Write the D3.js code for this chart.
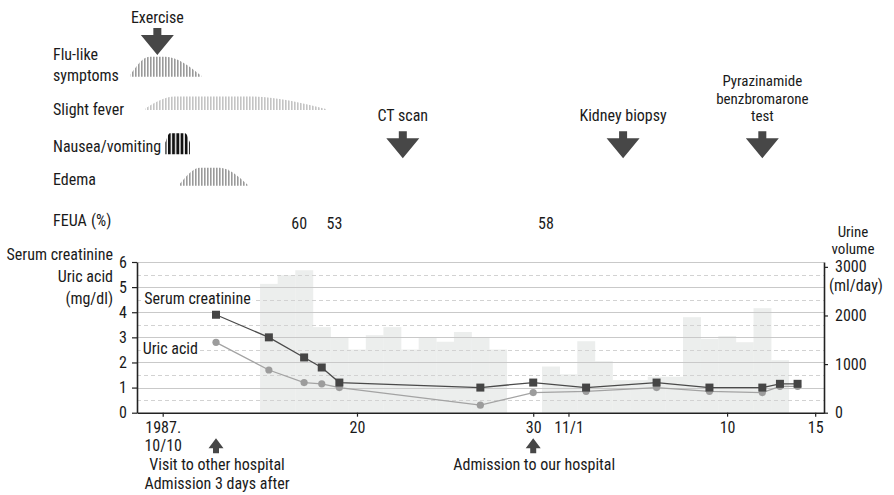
<!DOCTYPE html>
<html>
<head>
<meta charset="utf-8">
<script src="https://cdn.jsdelivr.net/npm/d3@7"></script>
<style>
  body { margin: 0; background: #fff; }
  text { font-family: "Liberation Sans Narrow", "Roboto Condensed", "DejaVu Sans Condensed", Roboto, sans-serif; font-size: 16px; fill: #1a1a1a; }
</style>
</head>
<body>
<svg id="chart"></svg>
<script>
// day numbers counted from 1987-10-01 = 1, so 11/1 = 32
const labDays = [12, 15, 17, 18, 19, 27, 30, 33, 37, 40, 43, 44, 45];
const creatinine = [3.9, 3.0, 2.2, 1.8, 1.2, 1.0, 1.2, 1.0, 1.2, 1.0, 1.0, 1.15, 1.15];
const uricAcid = [2.8, 1.7, 1.2, 1.15, 1.0, 0.3, 0.8, 0.85, 1.0, 0.85, 0.8, 1.05, 1.05];

const urineDays = [15, 16, 17, 18, 19, 20, 21, 22, 23, 24, 25, 26, 27, 28,
                   31, 32, 33, 34, 35, 36, 37, 38, 39, 40, 41, 42, 43, 44];
const urineVolume = [2650, 2830, 2930, 1760, 1540, 1300, 1595, 1760, 1300, 1540, 1460, 1660, 1540, 1300,
                     950, 790, 1470, 1060, 670, 670, 740, 740, 1965, 1520, 1575, 1450, 2150, 1080];

const feuaDays = [17, 19, 31];
const feuaValues = [60, 53, 58];

const symptomNames = ["Flu-like symptoms", "Slight fever", "Nausea/vomiting", "Edema"];
const symptomStart = [8.8, 9.35, 10.1, 10.65];
const symptomPeakFrom = [9.5, 10.45, 10.27, 11.4];
const symptomPeakTo = [10.1, 13.9, 10.84, 12.2];
const symptomEnd = [11.45, 18.3, 11.02, 13.8];

const topEvents = ["Exercise", "CT scan", "Kidney biopsy", "Pyrazinamide\nbenzbromarone\ntest"];
const topEventDays = [9.8, 22.6, 35.1, 43];
const bottomEvents = ["Visit to other hospital\nAdmission 3 days after", "Admission to our hospital"];
const bottomEventDays = [12, 30];

const xTicks = [10, 20, 30, 32, 41, 46];
const xTickLabels = ["1987.\n10/10", "20", "30", "11/1", "10", "15"];
const yTicks = [0, 1, 2, 3, 4, 5, 6];
const yRightTicks = [0, 1000, 2000, 3000];

const width = 894;
const height = 495;
const margin = { top: 262, left: 137 };
const plotW = 687;
const plotH = 150.7;

const svg = d3.select("#chart").attr("width", width).attr("height", height);

// the left end of the timeline is compressed, as in the original drawing
const x = d3.scaleLinear().domain([9.04, 10, 12, 46.5]).range([0, 25.7, 79, plotW]);
const y = d3.scaleLinear().domain([0, 6]).range([plotH, 0]);
const yR = d3.scaleLinear().domain([0, 3100]).range([plotH, 0]);
const X = (d) => margin.left + x(d);

const defs = svg.append("defs");
function stripes(id, step, bar, color) {
  defs.append("pattern")
    .attr("id", id)
    .attr("patternUnits", "userSpaceOnUse")
    .attr("width", step)
    .attr("height", 40)
    .append("rect")
    .attr("width", bar)
    .attr("height", 40)
    .attr("fill", color);
}
stripes("st-flu", 3, 1.6, "#9a9a9a");
stripes("st-fever", 3, 1.6, "#c4c4c4");
stripes("st-nausea", 4.2, 2.8, "#111");
stripes("st-edema", 3, 1.6, "#9a9a9a");
const symptomFill = d3.scaleOrdinal().domain(symptomNames)
  .range(["url(#st-flu)", "url(#st-fever)", "url(#st-nausea)", "url(#st-edema)"]);

// symptom rows
const rowBase = [76.7, 110, 154.3, 185.7];
const rowHeight = [20, 13.5, 21, 18];
const rowLabelY = [60, 115, 151.5, 185];

const symptoms = svg.append("g");
symptomNames.forEach((name, i) => {
  const area = d3.area()
    .x((d) => X(d[0]))
    .y0(rowBase[i])
    .y1((d) => rowBase[i] - rowHeight[i] * d[1])
    .curve(d3.curveMonotoneX);
  const startH = i === 2 ? 0.55 : 0.12;
  symptoms.append("path")
    .attr("d", area([
      [symptomStart[i], startH],
      [symptomPeakFrom[i], 1],
      [symptomPeakTo[i], 1],
      [symptomEnd[i], i === 2 ? 0.55 : 0.05]
    ]))
    .attr("fill", symptomFill(name));

  const t = symptoms.append("text").attr("x", 53).attr("y", rowLabelY[i]);
  if (i === 0) {
    t.append("tspan").attr("x", 53).text("Flu-like");
    t.append("tspan").attr("x", 53).attr("dy", 21).text("symptoms");
  } else {
    t.text(name);
  }
});

// FEUA row
svg.append("text").attr("x", 53).attr("y", 226).text("FEUA");
svg.append("text").attr("x", 91).attr("y", 226).text("(%)");
svg.append("g")
  .selectAll("text")
  .data(feuaValues)
  .join("text")
  .attr("x", (d, i) => X(feuaDays[i]) + 3)
  .attr("y", 229)
  .attr("text-anchor", "end")
  .text((d) => d);

// event arrows (down)
const arrowColor = "#474747";
const events = svg.append("g");
topEvents.forEach((name, i) => {
  const cx = X(topEventDays[i]);
  const tip = i === 0 ? 55 : 158.3;
  events.append("path")
    .attr("d", `M${cx - 4},${tip - 27}h8v7h12.5L${cx},${tip}L${cx - 16.5},${tip - 20}h12.5z`)
    .attr("fill", arrowColor);
  const lines = name.split("\n");
  const base = i === 0 ? 22.5 : 121;
  events.append("g")
    .selectAll("text")
    .data(lines)
    .join("text")
    .attr("x", cx)
    .attr("y", (d, k) => base - (lines.length - 1 - k) * 17.5)
    .attr("text-anchor", "middle")
    .style("font-size", lines.length > 1 ? "15px" : null)
    .text((d) => d);
});

const plot = svg.append("g").attr("transform", `translate(${margin.left},${margin.top})`);

// urine volume bars
plot.append("g")
  .selectAll("rect")
  .data(urineVolume)
  .join("rect")
  .attr("x", (d, i) => x(urineDays[i] - 0.5))
  .attr("width", (d, i) => x(urineDays[i] + 0.5) - x(urineDays[i] - 0.5) + 0.3)
  .attr("y", (d) => yR(d))
  .attr("height", (d) => plotH - yR(d))
  .attr("fill", "#eceeed");

// grid
plot.append("g")
  .selectAll("line")
  .data(d3.range(1, 13).map((k) => k / 2))
  .join("line")
  .attr("x1", 0)
  .attr("x2", plotW)
  .attr("y1", (d) => Math.round(y(d)) + 0.5)
  .attr("y2", (d) => Math.round(y(d)) + 0.5)
  .attr("stroke", (d) => (d % 1 === 0 ? "#c9c9c9" : "#d2d2d2"))
  .attr("stroke-width", 1)
  .attr("stroke-dasharray", (d) => (d % 1 === 0 ? null : "4,3"));

// series labels with white backing
[["Serum creatinine", 7.3, 303.5], ["Uric acid", 5.7, 353.5]].forEach(([label, dx, by]) => {
  const t = plot.append("text")
    .attr("x", dx)
    .attr("y", by - margin.top)
    .text(label);
  const bb = t.node().getBBox();
  plot.insert("rect", () => t.node())
    .attr("x", bb.x - 2)
    .attr("y", bb.y + 2)
    .attr("width", bb.width + 4)
    .attr("height", bb.height - 3)
    .attr("fill", "#fff");
});

// lines
const lineC = d3.line().x((d, i) => x(labDays[i])).y((d) => y(d));
plot.append("path")
  .attr("d", lineC(uricAcid))
  .attr("fill", "none")
  .attr("stroke", "#a3a3a3")
  .attr("stroke-width", 1.3);
plot.append("path")
  .attr("d", lineC(creatinine))
  .attr("fill", "none")
  .attr("stroke", "#4a4a4a")
  .attr("stroke-width", 1.3);

plot.append("g")
  .selectAll("circle")
  .data(uricAcid)
  .join("circle")
  .attr("cx", (d, i) => x(labDays[i]))
  .attr("cy", (d) => y(d))
  .attr("r", 3.6)
  .attr("fill", "#9c9c9c");

plot.append("g")
  .selectAll("rect")
  .data(creatinine)
  .join("rect")
  .attr("x", (d, i) => x(labDays[i]) - 4)
  .attr("y", (d) => y(d) - 4)
  .attr("width", 8)
  .attr("height", 8)
  .attr("fill", "#454545");

// axes
function styleAxis(sel) {
  sel.select(".domain").attr("stroke", "#222").attr("stroke-width", 1.6);
  sel.selectAll(".tick line").attr("stroke", "#222").attr("stroke-width", 1.2);
  sel.selectAll(".tick text").attr("fill", "#1a1a1a").style("font-size", "16px").attr("font-family", null);
}

plot.append("g")
  .call(d3.axisLeft(y).tickValues(yTicks).tickSize(5).tickSizeOuter(0).tickPadding(5).tickFormat(d3.format("d")))
  .call(styleAxis);

plot.append("g")
  .attr("transform", `translate(${plotW},0)`)
  .call(d3.axisRight(yR).tickValues(yRightTicks).tickSize(4).tickSizeOuter(0).tickPadding(7).tickFormat(d3.format("d")))
  .call(styleAxis);

const xAxis = plot.append("g")
  .attr("transform", `translate(0,${plotH})`)
  .call(d3.axisBottom(x).tickValues(xTicks).tickSize(4).tickSizeOuter(0).tickPadding(5)
    .tickFormat((d, i) => xTickLabels[i]))
  .call(styleAxis);
xAxis.selectAll(".tick text").each(function (d, i) {
  const lines = xTickLabels[i].split("\n");
  if (lines.length > 1) {
    const t = d3.select(this).text(null);
    lines.forEach((l, k) => t.append("tspan").attr("x", 0).attr("dy", k === 0 ? "0.71em" : 17.5).text(l));
  }
});

// axis titles
const leftTitles = [["Serum creatinine", 260], ["Uric acid", 282], ["(mg/dl)", 303.5]];
svg.append("g")
  .selectAll("text")
  .data(leftTitles)
  .join("text")
  .attr("x", 113)
  .attr("y", (d) => d[1])
  .attr("text-anchor", "end")
  .text((d) => d[0]);

const rightTitles = [["Urine", 236.5], ["volume", 254]];
svg.append("g")
  .selectAll("text")
  .data(rightTitles)
  .join("text")
  .attr("x", 853)
  .attr("y", (d) => d[1])
  .attr("text-anchor", "middle")
  .style("font-size", "15px")
  .text((d) => d[0]);
svg.append("text").attr("x", 829).attr("y", 291).text("(ml/day)");

// bottom event arrows (up)
const low = svg.append("g");
bottomEvents.forEach((name, i) => {
  const cx = X(bottomEventDays[i]);
  const tip = 438.3;
  low.append("path")
    .attr("d", `M${cx},${tip}L${cx + 7.5},${tip + 10}h-4.5v5h-6v-5h-4.5z`)
    .attr("fill", arrowColor);
  low.append("g")
    .selectAll("text")
    .data(name.split("\n"))
    .join("text")
    .attr("x", cx + 1)
    .attr("y", (d, k) => 470 + k * 18.5)
    .attr("text-anchor", "middle")
    .text((d) => d);
});
</script>
</body>
</html>
